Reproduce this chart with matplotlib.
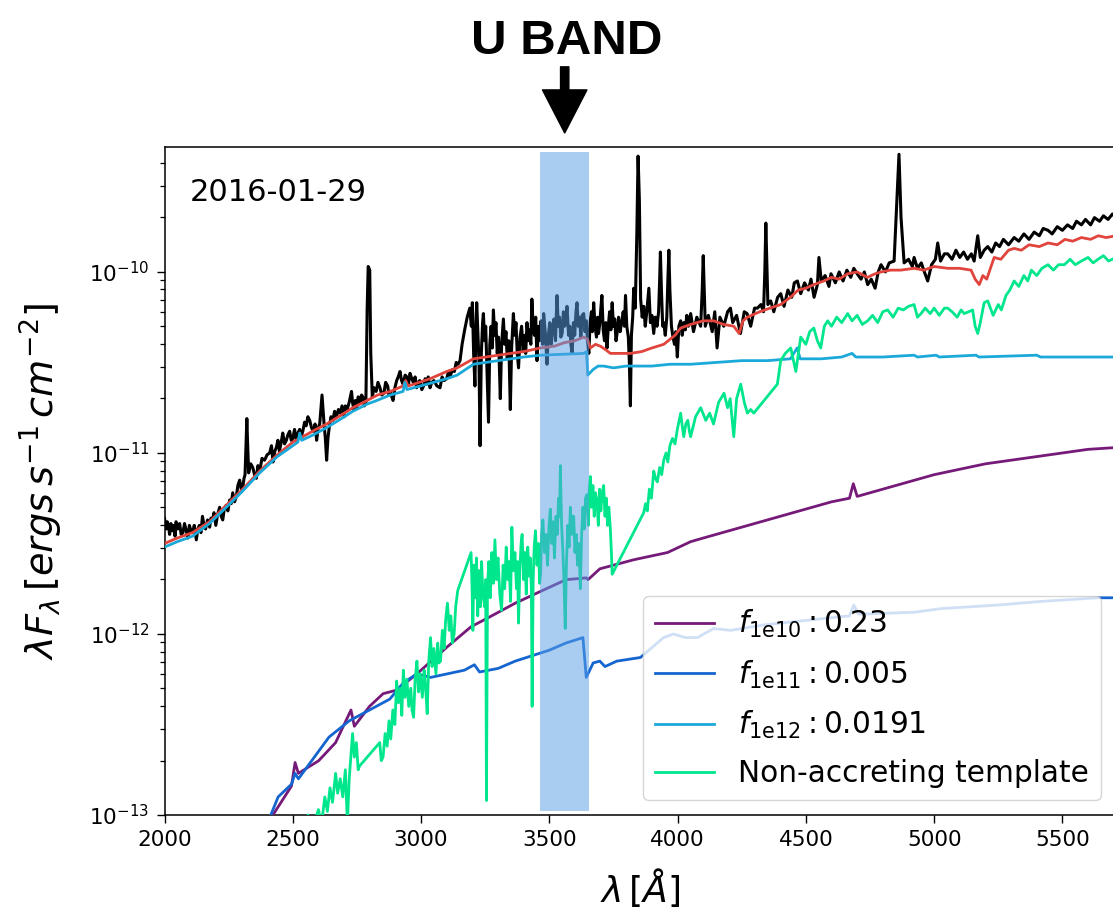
"""U-band view of the 2016-01-29 spectrum with accretion-shock model components."""

import numpy as np
from matplotlib import pyplot as plt

# ---- data: (wavelength [A], log10 lambda*F_lambda) ----
obs_points = [
    (2000, -11.36), (2006, -11.42), (2011, -11.38), (2015, -11.40), (2020, -11.45), (2025, -11.39),
    (2031, -11.43), (2037, -11.40), (2041, -11.46), (2045, -11.38), (2052, -11.42), (2059, -11.39),
    (2065, -11.45), (2072, -11.44), (2078, -11.39), (2085, -11.43), (2091, -11.47), (2097, -11.40),
    (2103, -11.43), (2109, -11.44), (2116, -11.40), (2124, -11.48), (2130, -11.42), (2136, -11.40),
    (2142, -11.44), (2148, -11.35), (2154, -11.40), (2160, -11.42), (2168, -11.37), (2176, -11.41),
    (2181, -11.36), (2187, -11.37), (2193, -11.33), (2200, -11.40), (2207, -11.34), (2215, -11.30),
    (2221, -11.35), (2227, -11.37), (2233, -11.31), (2240, -11.29), (2247, -11.32), (2254, -11.26),
    (2260, -11.28), (2266, -11.22), (2273, -11.27), (2280, -11.24), (2286, -11.18), (2293, -11.15),
    (2299, -11.20), (2305, -11.19), (2310, -11.14), (2314, -11.12), (2318, -10.95), (2321, -10.81),
    (2324, -10.95), (2328, -11.11), (2336, -11.06), (2344, -11.08), (2351, -11.12), (2358, -11.14),
    (2364, -11.07), (2371, -11.10), (2380, -11.03), (2390, -11.04), (2400, -11.01), (2410, -11.00),
    (2417, -10.96), (2423, -11.05), (2430, -10.99), (2436, -10.97), (2442, -10.93), (2448, -10.99),
    (2455, -10.94), (2461, -10.89), (2468, -10.95), (2475, -10.93), (2481, -10.90), (2488, -10.88),
    (2494, -10.93), (2500, -10.92), (2507, -10.87), (2514, -10.93), (2520, -10.89), (2527, -10.87),
    (2533, -10.91), (2539, -10.88), (2546, -10.83), (2552, -10.85), (2559, -10.80), (2566, -10.82),
    (2573, -10.86), (2580, -10.88), (2587, -10.84), (2593, -10.93), (2599, -10.86), (2605, -10.84),
    (2610, -10.75), (2614, -10.68), (2618, -10.76), (2622, -10.84), (2627, -10.92), (2632, -11.04),
    (2637, -10.92), (2642, -10.86), (2649, -10.80), (2656, -10.82), (2663, -10.77), (2670, -10.80),
    (2678, -10.76), (2685, -10.78), (2692, -10.74), (2700, -10.80), (2705, -10.74), (2710, -10.77),
    (2720, -10.72), (2729, -10.66), (2733, -10.72), (2738, -10.76), (2744, -10.71), (2749, -10.75),
    (2755, -10.69), (2762, -10.72), (2768, -10.68), (2773, -10.69), (2779, -10.74), (2785, -10.72),
    (2790, -10.20), (2794, -9.97), (2800, -9.99), (2804, -10.45), (2810, -10.69), (2817, -10.64),
    (2825, -10.66), (2832, -10.61), (2840, -10.64), (2847, -10.68), (2855, -10.67), (2862, -10.61),
    (2870, -10.63), (2875, -10.68), (2880, -10.66), (2886, -10.69), (2891, -10.71), (2898, -10.64),
    (2905, -10.60), (2911, -10.58), (2918, -10.55), (2924, -10.60), (2930, -10.62), (2938, -10.57),
    (2945, -10.58), (2951, -10.62), (2957, -10.56), (2964, -10.59), (2970, -10.61), (2977, -10.58),
    (2983, -10.64), (2989, -10.61), (2995, -10.60), (3003, -10.65), (3010, -10.63), (3016, -10.59),
    (3022, -10.62), (3028, -10.58), (3035, -10.64), (3042, -10.61), (3050, -10.60), (3062, -10.63),
    (3074, -10.64), (3082, -10.58), (3090, -10.60), (3100, -10.59), (3107, -10.55), (3113, -10.58),
    (3122, -10.54), (3130, -10.55), (3137, -10.50), (3144, -10.51), (3152, -10.49), (3160, -10.40),
    (3170, -10.32), (3180, -10.25), (3190, -10.20), (3196, -10.30), (3200, -10.17), (3205, -10.45),
    (3210, -10.63), (3214, -10.30), (3217, -10.17), (3222, -10.35), (3226, -10.50), (3230, -10.96),
    (3235, -10.45), (3240, -10.28), (3243, -10.23), (3248, -10.38), (3252, -10.30), (3257, -10.55),
    (3263, -10.83), (3268, -10.40), (3273, -10.30), (3278, -10.42), (3282, -10.21), (3287, -10.35),
    (3292, -10.28), (3297, -10.45), (3302, -10.36), (3309, -10.70), (3314, -10.40), (3321, -10.26),
    (3326, -10.40), (3331, -10.33), (3336, -10.48), (3342, -10.38), (3348, -10.76), (3353, -10.42),
    (3360, -10.23), (3365, -10.35), (3370, -10.28), (3375, -10.45), (3380, -10.53), (3386, -10.36),
    (3392, -10.30), (3398, -10.44), (3404, -10.35), (3408, -10.45), (3413, -10.28), (3418, -10.38),
    (3423, -10.32), (3428, -10.40), (3432, -10.15), (3437, -10.30), (3442, -10.35), (3447, -10.25),
    (3452, -10.49), (3457, -10.30), (3462, -10.38), (3468, -10.27), (3474, -10.40), (3478, -10.23),
    (3484, -10.33), (3491, -10.51), (3496, -10.35), (3502, -10.28), (3507, -10.40), (3512, -10.32),
    (3518, -10.26), (3524, -10.38), (3530, -10.13), (3535, -10.30), (3540, -10.25), (3545, -10.36),
    (3550, -10.34), (3555, -10.22), (3560, -10.30), (3565, -10.26), (3569, -10.19), (3575, -10.35),
    (3580, -10.30), (3584, -10.40), (3589, -10.45), (3594, -10.28), (3599, -10.35), (3604, -10.22),
    (3608, -10.17), (3613, -10.30), (3618, -10.25), (3623, -10.36), (3628, -10.24), (3634, -10.23),
    (3639, -10.33), (3644, -10.27), (3649, -10.38), (3654, -10.45), (3659, -10.28), (3664, -10.22),
    (3668, -10.33), (3673, -10.17), (3678, -10.30), (3684, -10.36), (3688, -10.25), (3692, -10.34),
    (3697, -10.28), (3701, -10.20), (3705, -10.13), (3710, -10.32), (3715, -10.38), (3720, -10.28),
    (3725, -10.42), (3730, -10.30), (3735, -10.22), (3740, -10.32), (3745, -10.17), (3750, -10.30),
    (3755, -10.26), (3760, -10.38), (3764, -10.34), (3770, -10.25), (3776, -10.33), (3782, -10.28),
    (3788, -10.22), (3793, -10.30), (3797, -10.13), (3802, -10.30), (3808, -10.36), (3812, -10.50),
    (3816, -10.74), (3820, -10.35), (3825, -10.25), (3829, -10.09), (3835, -10.20), (3841, -9.80),
    (3846, -9.36), (3851, -9.60), (3856, -10.15), (3862, -10.25), (3868, -10.19), (3874, -10.30),
    (3880, -10.22), (3888, -10.09), (3894, -10.28), (3900, -10.24), (3907, -10.34), (3913, -10.25),
    (3920, -10.30), (3926, -10.22), (3930, -10.05), (3933, -9.89), (3937, -10.10), (3942, -10.30),
    (3946, -10.28), (3952, -10.35), (3958, -10.25), (3962, -10.05), (3966, -9.88), (3970, -10.10),
    (3976, -10.30), (3982, -10.36), (3988, -10.40), (3993, -10.33), (3999, -10.47), (4005, -10.30),
    (4012, -10.27), (4018, -10.35), (4024, -10.28), (4030, -10.32), (4036, -10.24), (4042, -10.30),
    (4051, -10.23), (4062, -10.33), (4075, -10.25), (4090, -10.30), (4096, -10.10), (4100, -9.91),
    (4104, -10.10), (4108, -10.30), (4120, -10.24), (4135, -10.33), (4145, -10.22), (4154, -10.42),
    (4165, -10.25), (4180, -10.30), (4195, -10.22), (4206, -10.20), (4215, -10.28), (4230, -10.24),
    (4245, -10.34), (4260, -10.22), (4271, -10.23), (4285, -10.30), (4300, -10.20), (4311, -10.20),
    (4325, -10.18), (4335, -10.22), (4340, -10.00), (4344, -9.73), (4348, -9.95), (4352, -10.18),
    (4363, -10.16), (4375, -10.22), (4390, -10.14), (4402, -10.12), (4415, -10.19), (4430, -10.10),
    (4445, -10.14), (4455, -10.06), (4467, -10.05), (4480, -10.12), (4495, -10.06), (4510, -10.10),
    (4520, -10.04), (4532, -10.14), (4545, -10.07), (4551, -9.92), (4560, -10.05), (4575, -10.02),
    (4590, -10.08), (4598, -10.01), (4615, -10.06), (4630, -10.00), (4645, -10.05), (4660, -9.99),
    (4675, -10.03), (4687, -9.98), (4700, -10.01), (4715, -10.04), (4728, -10.00), (4741, -10.07),
    (4755, -10.04), (4770, -10.09), (4782, -10.00), (4793, -9.96), (4810, -10.00), (4825, -9.95),
    (4844, -9.94), (4855, -9.60), (4863, -9.35), (4871, -9.70), (4883, -9.95), (4900, -9.93),
    (4915, -9.97), (4922, -9.92), (4935, -9.98), (4950, -9.95), (4962, -10.00), (4975, -10.05),
    (4990, -9.96), (5005, -9.93), (5014, -9.84), (5025, -9.94), (5040, -9.90), (5053, -9.90),
    (5070, -9.93), (5085, -9.88), (5100, -9.92), (5115, -9.89), (5130, -9.93), (5145, -9.90),
    (5156, -9.94), (5170, -9.80), (5180, -9.92), (5195, -9.88), (5209, -9.86), (5225, -9.89),
    (5240, -9.84), (5255, -9.86), (5270, -9.82), (5290, -9.85), (5312, -9.81), (5330, -9.83),
    (5350, -9.79), (5370, -9.82), (5390, -9.78), (5410, -9.80), (5425, -9.76), (5444, -9.77),
    (5460, -9.79), (5480, -9.75), (5500, -9.77), (5520, -9.74), (5540, -9.76), (5555, -9.72),
    (5574, -9.74), (5590, -9.71), (5610, -9.74), (5625, -9.70), (5645, -9.72), (5660, -9.69),
    (5678, -9.71), (5695, -9.68), (5710, -9.70),
]

total_points = [
    (2000, -11.50), (2050, -11.47), (2109, -11.44), (2175, -11.38), (2240, -11.29), (2305, -11.20),
    (2371, -11.10), (2440, -11.01), (2500, -10.94), (2539, -10.91), (2590, -10.87), (2632, -10.84),
    (2690, -10.79), (2734, -10.75), (2790, -10.71), (2830, -10.68), (2880, -10.66), (2930, -10.63),
    (2940, -10.60), (2950, -10.63), (3035, -10.59), (3100, -10.55), (3141, -10.53), (3204, -10.48),
    (3300, -10.46), (3400, -10.44), (3465, -10.42), (3520, -10.41), (3560, -10.39), (3600, -10.38),
    (3634, -10.36), (3648, -10.37), (3660, -10.42), (3680, -10.40), (3699, -10.41), (3720, -10.43),
    (3738, -10.45), (3780, -10.45), (3816, -10.45), (3860, -10.44), (3900, -10.42), (3946, -10.40),
    (3990, -10.35), (4012, -10.31), (4051, -10.29), (4100, -10.27), (4140, -10.27), (4180, -10.29),
    (4219, -10.30), (4240, -10.34), (4255, -10.27), (4272, -10.25), (4320, -10.22), (4360, -10.20),
    (4402, -10.18), (4440, -10.14), (4470, -10.10), (4500, -10.09), (4531, -10.07), (4570, -10.05),
    (4600, -10.03), (4630, -10.04), (4663, -10.01), (4700, -10.00), (4740, -10.03), (4770, -10.01),
    (4793, -10.00), (4830, -9.99), (4870, -9.99), (4922, -9.98), (4960, -9.99), (5000, -9.97),
    (5053, -9.98), (5100, -9.98), (5144, -9.99), (5160, -10.04), (5176, -10.07), (5190, -10.02),
    (5205, -10.04), (5234, -9.92), (5260, -9.93), (5290, -9.88), (5312, -9.87), (5340, -9.88),
    (5370, -9.85), (5410, -9.86), (5444, -9.84), (5480, -9.85), (5510, -9.82), (5540, -9.83),
    (5574, -9.81), (5610, -9.82), (5640, -9.80), (5670, -9.81), (5710, -9.80),
]

f1e10_points = [
    (2400, -13.05), (2495, -12.84), (2509, -12.71), (2522, -12.77), (2601, -12.70), (2667, -12.60),
    (2727, -12.42), (2740, -12.51), (2799, -12.40), (2852, -12.33), (2905, -12.31), (2984, -12.22),
    (3103, -12.07), (3195, -11.96), (3262, -11.91), (3367, -11.83), (3473, -11.76), (3565, -11.70),
    (3644, -11.69), (3651, -11.70), (3697, -11.64), (3829, -11.59), (3961, -11.55), (4051, -11.49),
    (4100, -11.47), (4200, -11.43), (4300, -11.39), (4400, -11.35), (4500, -11.31), (4600, -11.27),
    (4670, -11.25), (4685, -11.17), (4700, -11.24), (4800, -11.20), (4900, -11.16), (5000, -11.12),
    (5100, -11.09), (5200, -11.06), (5300, -11.04), (5400, -11.02), (5500, -11.00), (5600, -10.98),
    (5710, -10.97),
]

f1e11_points = [
    (2400, -13.05), (2443, -12.90), (2495, -12.83), (2509, -12.77), (2522, -12.80), (2548, -12.75),
    (2641, -12.57), (2720, -12.48), (2799, -12.42), (2878, -12.36), (2931, -12.27), (2984, -12.22),
    (3037, -12.24), (3103, -12.22), (3169, -12.20), (3208, -12.17), (3228, -12.21), (3301, -12.19),
    (3367, -12.15), (3433, -12.12), (3499, -12.09), (3565, -12.05), (3631, -12.02), (3644, -12.24),
    (3671, -12.16), (3697, -12.15), (3717, -12.18), (3763, -12.15), (3855, -12.13), (3945, -12.02),
    (3984, -12.00), (4030, -12.02), (4077, -12.02), (4140, -11.97), (4207, -11.98), (4336, -11.95),
    (4467, -11.93), (4600, -11.91), (4670, -11.90), (4687, -11.84), (4705, -11.89), (4726, -11.89),
    (4922, -11.88), (5027, -11.86), (5249, -11.84), (5418, -11.82), (5639, -11.80), (5710, -11.80),
]

f1e12_points = [
    (2000, -11.52), (2050, -11.49), (2109, -11.46), (2175, -11.39), (2241, -11.30), (2305, -11.21),
    (2371, -11.11), (2440, -11.02), (2500, -10.96), (2520, -10.94), (2527, -10.89), (2535, -10.93),
    (2580, -10.90), (2632, -10.86), (2690, -10.81), (2734, -10.77), (2790, -10.73), (2828, -10.71),
    (2880, -10.68), (2930, -10.66), (2937, -10.61), (2945, -10.65), (3023, -10.62), (3100, -10.59),
    (3141, -10.57), (3204, -10.51), (3300, -10.49), (3400, -10.47), (3465, -10.46), (3550, -10.455),
    (3634, -10.45), (3645, -10.44), (3650, -10.57), (3670, -10.54), (3690, -10.52), (3712, -10.52),
    (3750, -10.53), (3800, -10.52), (3900, -10.52), (3970, -10.51), (4051, -10.51), (4150, -10.50),
    (4250, -10.49), (4350, -10.49), (4440, -10.48), (4466, -10.42), (4478, -10.48), (4560, -10.48),
    (4640, -10.47), (4680, -10.45), (4695, -10.47), (4800, -10.47), (4922, -10.46), (4935, -10.47),
    (5008, -10.46), (5020, -10.47), (5163, -10.46), (5175, -10.47), (5400, -10.46), (5415, -10.47),
    (5710, -10.47),
]

templ_points = [
    (2530, -13.08), (2560, -13.00), (2575, -13.08), (2600, -12.97), (2612, -13.05), (2625, -12.90),
    (2635, -12.98), (2645, -12.85), (2655, -12.93), (2667, -12.77), (2675, -12.88), (2685, -12.80),
    (2695, -12.90), (2705, -12.75), (2713, -13.05), (2720, -12.80), (2733, -12.55), (2740, -12.68),
    (2748, -12.60), (2755, -12.75), (2760, -12.73), (2839, -12.60), (2845, -12.70), (2852, -12.68),
    (2860, -12.55), (2868, -12.62), (2875, -12.48), (2882, -12.58), (2890, -12.42), (2898, -12.50),
    (2905, -12.26), (2912, -12.38), (2920, -12.30), (2925, -12.45), (2931, -12.20), (2938, -12.35),
    (2945, -12.25), (2952, -12.40), (2960, -12.30), (2965, -12.42), (2971, -12.46), (2977, -12.25),
    (2984, -12.15), (2990, -12.32), (2997, -12.22), (3005, -12.35), (3012, -12.20), (3018, -12.30),
    (3024, -12.44), (3030, -12.15), (3037, -12.02), (3043, -12.18), (3050, -12.08), (3058, -12.22),
    (3065, -12.05), (3070, -12.16), (3076, -12.15), (3083, -11.98), (3090, -12.08), (3096, -11.92),
    (3103, -11.83), (3110, -11.98), (3116, -11.90), (3122, -12.05), (3129, -12.00), (3135, -11.85),
    (3143, -11.76), (3195, -11.55), (3199, -11.75), (3202, -11.98), (3206, -11.62), (3211, -11.80),
    (3216, -11.58), (3221, -11.90), (3226, -11.65), (3231, -11.85), (3236, -11.60), (3241, -11.78),
    (3248, -11.85), (3252, -11.70), (3255, -12.92), (3259, -11.75), (3264, -11.60), (3270, -11.80),
    (3276, -11.55), (3282, -11.72), (3288, -11.48), (3294, -11.70), (3300, -11.58), (3307, -11.78),
    (3314, -11.87), (3320, -11.62), (3326, -11.75), (3332, -11.52), (3338, -11.70), (3343, -11.60),
    (3349, -11.82), (3354, -11.41), (3360, -11.65), (3366, -11.55), (3372, -11.75), (3376, -11.60),
    (3380, -11.94), (3385, -11.65), (3390, -11.50), (3394, -11.45), (3400, -11.70), (3405, -11.55),
    (3410, -11.78), (3416, -11.52), (3421, -11.68), (3426, -11.58), (3430, -11.75), (3433, -12.40),
    (3437, -11.70), (3441, -11.52), (3446, -11.43), (3452, -11.62), (3458, -11.50), (3462, -11.72),
    (3466, -11.67), (3470, -11.45), (3475, -11.37), (3481, -11.55), (3487, -11.45), (3493, -11.62),
    (3499, -11.40), (3504, -11.31), (3510, -11.50), (3515, -11.38), (3520, -11.58), (3526, -11.35),
    (3531, -11.45), (3536, -11.25), (3540, -11.35), (3543, -11.07), (3548, -11.40), (3553, -11.55),
    (3557, -11.70), (3562, -11.97), (3567, -11.60), (3572, -11.40), (3577, -11.52), (3582, -11.30),
    (3587, -11.45), (3591, -11.35), (3595, -11.35), (3600, -11.55), (3605, -11.45), (3610, -11.62),
    (3615, -11.50), (3621, -11.75), (3626, -11.45), (3631, -11.30), (3636, -11.42), (3641, -11.25),
    (3647, -11.23), (3652, -11.40), (3656, -11.20), (3660, -11.13), (3665, -11.30), (3670, -11.18),
    (3675, -11.35), (3680, -11.22), (3686, -11.27), (3691, -11.40), (3696, -11.20), (3701, -11.32),
    (3706, -11.22), (3712, -11.18), (3717, -11.35), (3722, -11.25), (3727, -11.40), (3732, -11.30),
    (3738, -11.42), (3742, -11.55), (3745, -11.67), (3868, -11.33), (3875, -11.28), (3882, -11.32),
    (3890, -11.20), (3898, -11.25), (3907, -11.10), (3914, -11.14), (3921, -11.16), (3930, -11.08),
    (3938, -11.12), (3946, -11.04), (3955, -11.00), (3962, -11.05), (3970, -10.96), (3980, -10.92),
    (3990, -10.95), (3999, -10.87), (4006, -10.82), (4012, -10.78), (4018, -10.85), (4024, -10.91),
    (4032, -10.84), (4040, -10.82), (4046, -10.88), (4051, -10.91), (4070, -10.80), (4090, -10.75),
    (4110, -10.82), (4125, -10.78), (4140, -10.84), (4160, -10.72), (4181, -10.67), (4195, -10.75),
    (4205, -10.70), (4219, -10.91), (4230, -10.70), (4246, -10.62), (4260, -10.72), (4272, -10.78),
    (4285, -10.76), (4297, -10.78), (4389, -10.62), (4402, -10.49), (4420, -10.45), (4441, -10.42),
    (4461, -10.55), (4480, -10.36), (4500, -10.40), (4515, -10.33), (4531, -10.31), (4545, -10.38),
    (4558, -10.42), (4572, -10.30), (4585, -10.27), (4600, -10.30), (4620, -10.25), (4640, -10.28),
    (4663, -10.23), (4680, -10.27), (4700, -10.24), (4720, -10.29), (4741, -10.27), (4760, -10.24),
    (4780, -10.28), (4800, -10.22), (4819, -10.21), (4840, -10.25), (4860, -10.20), (4880, -10.21),
    (4900, -10.19), (4922, -10.18), (4935, -10.25), (4949, -10.23), (4965, -10.20), (4985, -10.23),
    (5000, -10.20), (5020, -10.24), (5040, -10.20), (5053, -10.20), (5070, -10.22), (5090, -10.25),
    (5105, -10.21), (5117, -10.23), (5135, -10.22), (5150, -10.21), (5160, -10.30), (5170, -10.34),
    (5180, -10.28), (5195, -10.17), (5209, -10.16), (5230, -10.24), (5250, -10.18), (5262, -10.21),
    (5280, -10.13), (5295, -10.10), (5312, -10.05), (5330, -10.08), (5350, -10.02), (5365, -10.05),
    (5379, -9.99), (5400, -10.02), (5420, -9.98), (5444, -9.96), (5465, -9.99), (5485, -9.96),
    (5508, -9.96), (5530, -9.93), (5550, -9.96), (5574, -9.94), (5600, -9.92), (5620, -9.95),
    (5639, -9.93), (5660, -9.91), (5680, -9.94), (5710, -9.92),
]

legend_labels = [r'$f_{\mathrm{1e10}}:0.23$', r'$f_{\mathrm{1e11}}:0.005$',
                 r'$f_{\mathrm{1e12}}:0.0191$', 'Non-accreting template']
u_band = (3465, 3655)
obs_date = '2016-01-29'


def curve(points):
    arr = np.asarray(points, dtype=float)
    return arr[:, 0], 10 ** arr[:, 1]


# ---- figure ----
fig = plt.figure(figsize=(11.13, 9.11), dpi=100)
ax = fig.add_axes([164.5 / 1113, 96 / 911, 951 / 1113, 668 / 911])

ax.plot(*curve(obs_points), color='black', lw=2.2, zorder=2)
ax.plot(*curve(total_points), color='#e0443c', lw=2.0, zorder=3)
l1, = ax.plot(*curve(f1e10_points), color='#761a7a', lw=2.0, zorder=3)
l2, = ax.plot(*curve(f1e11_points), color='#1565d0', lw=2.0, zorder=3)
l3, = ax.plot(*curve(f1e12_points), color='#1aa9d9', lw=2.0, zorder=4)
l4, = ax.plot(*curve(templ_points), color='#00e68c', lw=2.0, zorder=4)

# U band shading sits on top of the curves
ax.axvspan(*u_band, ymin=0.006, ymax=0.9925, color='#5aa0e6', alpha=0.52, lw=0, zorder=5)

ax.set_yscale('log')
ax.set_xlim(2000, 5707)
ax.set_ylim(1e-13, 4.9e-10)
ax.set_xticks([2000, 2500, 3000, 3500, 4000, 4500, 5000, 5500])
ax.spines['right'].set_visible(False)
for s in ('left', 'top', 'bottom'):
    ax.spines[s].set_linewidth(1.1)
ax.tick_params(which='major', labelsize=15.5, length=5.8, width=1.0, pad=5)
ax.tick_params(which='minor', length=3.3, width=0.9)

ax.set_xlabel(r'$\lambda\,[\AA]$', fontsize=26)
ax.xaxis.set_label_coords(0.5, -0.077)
ax.set_ylabel(r'$\lambda F_{\lambda}\,[ergs\,s^{-1}\,cm^{-2}]$', fontsize=27.5)
ax.yaxis.set_label_coords(-0.1047, 0.4985)

ax.text(0.0268, 0.9196, obs_date, transform=ax.transAxes, fontsize=22, va='baseline')

ax.legend([l1, l2, l3, l4], legend_labels, loc='lower right', fontsize=21.3,
          labelspacing=0.62)

# U BAND marker above the axes
u_mid = 0.5 * (u_band[0] + u_band[1])
ax.annotate('', xy=(u_mid, 1.021), xytext=(u_mid, 1.12),
            xycoords=('data', 'axes fraction'), textcoords=('data', 'axes fraction'),
            arrowprops=dict(facecolor='black', edgecolor='black', width=6, headwidth=32,
                            headlength=31, shrink=0), annotation_clip=False)
ax.text(u_mid + 8, 1.139, 'U BAND', transform=ax.get_xaxis_transform(), ha='center',
        va='baseline', fontsize=35.5, fontweight='bold', family='Liberation Sans')

fig.savefig('out.png', dpi=100)
